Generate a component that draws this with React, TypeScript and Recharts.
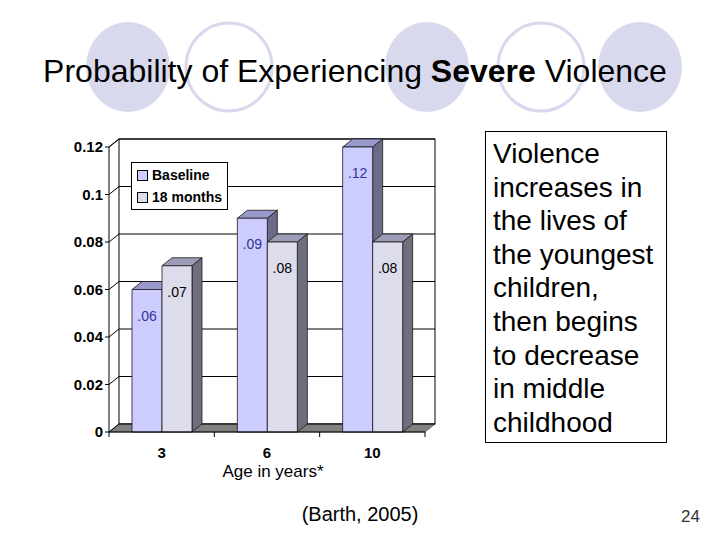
import React from 'react';
import {
  BarChart,
  Bar,
  XAxis,
  YAxis,
  CartesianGrid,
  ReferenceArea,
  LabelList,
  Legend
} from 'recharts';

const ageGroups = ['3', '6', '10'];
const baselineValues = [0.06, 0.09, 0.12];
const followUpValues = [0.07, 0.08, 0.08];
const baselineLabels = ['.06', '.09', '.12'];
const followUpLabels = ['.07', '.08', '.08'];
const yTicks = [0, 0.02, 0.04, 0.06, 0.08, 0.1, 0.12];
const seriesNames = ['Baseline', '18 months'];
const noteLines = [
  'Violence',
  'increases in',
  'the lives of',
  'the youngest',
  'children,',
  'then begins',
  'to decrease',
  'in middle',
  'childhood'
];

const data = ageGroups.map((age, i) => ({
  age,
  baseline: baselineValues[i],
  followUp: followUpValues[i],
  baselineLabel: baselineLabels[i],
  followUpLabel: followUpLabels[i]
}));

// depth of the fake 3d
const DX = 10;
const DY = 8;
const FONT = '"Liberation Sans", Arial, Helvetica, sans-serif';

const makeBox = (topFill: string, sideFill: string) => (props: any) => {
  const { x, y, width, height, fill } = props;
  if (!height || height <= 0) return <g />;
  const r = x + width;
  const b = y + height;
  return (
    <g stroke="#1a1a1a" strokeWidth={0.8} strokeLinejoin="round">
      <polygon points={`${x},${y} ${x + DX},${y - DY} ${r + DX},${y - DY} ${r},${y}`} fill={topFill} />
      <polygon points={`${r},${y} ${r + DX},${y - DY} ${r + DX},${b - DY} ${r},${b}`} fill={sideFill} />
      <rect x={x} y={y} width={width} height={height} fill={fill} />
    </g>
  );
};

const Walls = (props: any) => {
  const { x, y, width, height } = props;
  const b = y + height;
  const r = x + width;
  const n = ageGroups.length;
  return (
    <g>
      <polygon
        points={`${x},${b} ${r},${b} ${r + DX},${b - DY} ${x + DX},${b - DY}`}
        fill="#808080"
        stroke="#555"
        strokeWidth={0.8}
      />
      <rect x={x + DX} y={y - DY} width={width} height={height} fill="none" stroke="#000" strokeWidth={1} />
      <line x1={x} y1={y} x2={x + DX} y2={y - DY} stroke="#000" />
      {ageGroups.map((_, i) => (
        <line key={i} x1={x + (i * width) / n} y1={b} x2={x + (i * width) / n} y2={b + 5} stroke="#000" />
      ))}
      <line x1={r} y1={b} x2={r} y2={b + 5} stroke="#000" />
    </g>
  );
};

const YTick = (props: any) => {
  const { x, y, payload } = props;
  return (
    <g>
      <line x1={x - 4} y1={y} x2={x} y2={y} stroke="#000" />
      <line x1={x} y1={y} x2={x + DX} y2={y - DY} stroke="#000" />
      <text x={x - 6} y={y + 5} textAnchor="end" fontSize={15} fontWeight="bold" fontFamily={FONT} fill="#000">
        {String(payload.value)}
      </text>
    </g>
  );
};

const XTick = (props: any) => {
  const { x, y, payload } = props;
  return (
    <text x={x} y={y + 26} textAnchor="middle" fontSize={15} fontWeight="bold" fontFamily={FONT} fill="#000">
      {payload.value}
    </text>
  );
};

const barLabel = (color: string) => (props: any) => {
  const { x, y, width, value } = props;
  return (
    <text x={x + width / 2} y={y + 31} textAnchor="middle" fontSize={14} fontFamily={FONT} fill={color}>
      {value}
    </text>
  );
};

const LegendBox = (props: any) => {
  const items = [...(props.payload || [])].sort(
    (a: any, b: any) => seriesNames.indexOf(a.value) - seriesNames.indexOf(b.value)
  );
  return (
    <div
      style={{
        border: '1px solid #000',
        background: '#fff',
        padding: '1px 5px',
        fontFamily: FONT,
        fontSize: 14,
        fontWeight: 'bold',
        color: '#000'
      }}
    >
      {items.map((e: any) => (
        <div key={e.value} style={{ display: 'flex', alignItems: 'center', height: 22, whiteSpace: 'nowrap' }}>
          <span
            style={{
              display: 'inline-block',
              width: 9,
              height: 9,
              border: '1px solid #000',
              background: e.color,
              marginRight: 4
            }}
          />
          {e.value}
        </div>
      ))}
    </div>
  );
};

export default function App() {
  return (
    <div
      style={{
        position: 'absolute',
        left: 0,
        top: 0,
        width: 720,
        height: 540,
        background: '#fff',
        overflow: 'hidden',
        fontFamily: FONT
      }}
    >
      <svg width={720} height={540} style={{ position: 'absolute', left: 0, top: 0 }}>
        <ellipse cx={128} cy={67} rx={42} ry={45} fill="#d9d9ee" />
        <ellipse cx={229} cy={67} rx={43} ry={44} fill="none" stroke="#d9d9ee" strokeWidth={3} />
        <ellipse cx={427} cy={67} rx={42} ry={45} fill="#d9d9ee" />
        <ellipse cx={541} cy={67} rx={43} ry={44} fill="none" stroke="#d9d9ee" strokeWidth={3} />
        <ellipse cx={640} cy={67} rx={42} ry={45} fill="#d9d9ee" />
        <text x={355} y={82} textAnchor="middle" fontSize={32} fontFamily={FONT} fill="#000">
          Probability of Experiencing <tspan fontWeight="bold">Severe</tspan> Violence
        </text>
        <text x={360} y={521} textAnchor="middle" fontSize={20} fontFamily={FONT} fill="#000">
          (Barth, 2005)
        </text>
        <text x={700} y={522} textAnchor="end" fontSize={17} fontFamily={FONT} fill="#333">
          24
        </text>
      </svg>

      <div style={{ position: 'absolute', left: 0, top: 0 }}>
        <BarChart
          width={720}
          height={540}
          data={data}
          margin={{ top: 147, right: 295, bottom: 58, left: 49 }}
          barGap={0}
          barSize={30}
        >
          <ReferenceArea y1={0} y2={0.12} shape={<Walls />} ifOverflow="visible" />
          <CartesianGrid
            vertical={false}
            horizontal={(p: any) => (
              <line
                key={p.key}
                x1={p.x1 + DX}
                y1={p.y1 - DY}
                x2={p.x2 + DX}
                y2={p.y2 - DY}
                stroke="#000"
                strokeWidth={1}
              />
            )}
          />
          <XAxis
            dataKey="age"
            height={50}
            interval={0}
            tickSize={0}
            tickMargin={0}
            tickLine={false}
            axisLine={{ stroke: '#000' }}
            tick={<XTick />}
            label={{
              value: 'Age in years*',
              position: 'insideBottom',
              offset: 5,
              dx: 6,
              fontSize: 17,
              fill: '#000',
              fontFamily: FONT
            }}
          />
          <YAxis
            type="number"
            domain={[0, 0.12]}
            ticks={yTicks}
            interval={0}
            width={60}
            tickSize={0}
            tickMargin={0}
            tickLine={false}
            axisLine={{ stroke: '#000' }}
            tick={<YTick />}
          />
          <Legend
            verticalAlign="middle"
            align="center"
            content={<LegendBox />}
            wrapperStyle={{ left: 131, top: 162, width: 'auto', height: 'auto' }}
          />
          <Bar
            dataKey="baseline"
            name={seriesNames[0]}
            fill="#ccccff"
            shape={makeBox('#9999cc', '#6c6c88')}
            isAnimationActive={false}
          >
            <LabelList dataKey="baselineLabel" content={barLabel('#333399')} />
          </Bar>
          <Bar
            dataKey="followUp"
            name={seriesNames[1]}
            fill="#dcdcec"
            shape={makeBox('#9c9cb8', '#6e6e7c')}
            isAnimationActive={false}
          >
            <LabelList dataKey="followUpLabel" content={barLabel('#000')} />
          </Bar>
        </BarChart>
      </div>

      <div
        style={{
          position: 'absolute',
          left: 485,
          top: 131,
          width: 182,
          height: 312,
          boxSizing: 'border-box',
          border: '1.5px solid #000',
          padding: '5px 0 0 7px',
          fontSize: 28,
          lineHeight: '33.6px',
          color: '#000',
          background: '#fff'
        }}
      >
        {noteLines.map((line) => (
          <div key={line} style={{ whiteSpace: 'nowrap' }}>
            {line}
          </div>
        ))}
      </div>
    </div>
  );
}
